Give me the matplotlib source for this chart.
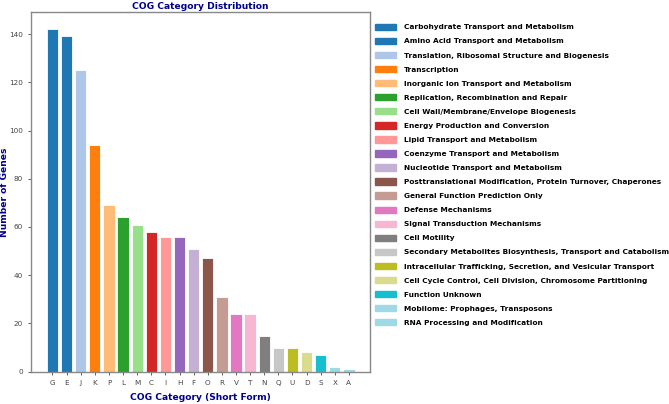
import matplotlib
matplotlib.use("Agg")
import matplotlib.pyplot as plt
import matplotlib.patches as mpatches
import numpy as np

# COG categories sorted by count
codes = ["G", "E", "J", "K", "P", "L", "M", "C", "I", "H", "F",
         "O", "R", "V", "T", "N", "Q", "U", "D", "S", "X", "A"]
counts = [142, 139, 125, 94, 69, 64, 61, 58, 56, 56, 51,
          47, 31, 24, 24, 15, 10, 10, 8, 7, 2, 1]
names = [
    "Carbohydrate Transport and Metabolism",
    "Amino Acid Transport and Metabolism",
    "Translation, Ribosomal Structure and Biogenesis",
    "Transcription",
    "Inorganic Ion Transport and Metabolism",
    "Replication, Recombination and Repair",
    "Cell Wall/Membrane/Envelope Biogenesis",
    "Energy Production and Conversion",
    "Lipid Transport and Metabolism",
    "Coenzyme Transport and Metabolism",
    "Nucleotide Transport and Metabolism",
    "Posttranslational Modification, Protein Turnover, Chaperones",
    "General Function Prediction Only",
    "Defense Mechanisms",
    "Signal Transduction Mechanisms",
    "Cell Motility",
    "Secondary Metabolites Biosynthesis, Transport and Catabolism",
    "Intracellular Trafficking, Secretion, and Vesicular Transport",
    "Cell Cycle Control, Cell Division, Chromosome Partitioning",
    "Function Unknown",
    "Mobilome: Prophages, Transposons",
    "RNA Processing and Modification",
]

colors = plt.cm.tab20(np.linspace(0, 1, len(codes)))

fig = plt.figure(figsize=(6.69, 4.04), dpi=100)
ax = fig.add_axes([0.047, 0.08, 0.506, 0.89])

ax.bar(codes, counts, color=colors, edgecolor="white", linewidth=0.6)

ax.set_title("COG Category Distribution", fontsize=6.6, fontweight="bold",
             color="darkblue", pad=2)
ax.set_xlabel("COG Category (Short Form)", fontsize=6.6, fontweight="bold",
              color="darkblue", labelpad=5)
ax.set_ylabel("Number of Genes", fontsize=6.6, fontweight="bold",
              color="darkblue", labelpad=0.5)

ax.tick_params(labelsize=5.2, colors="#444444", length=2.5, width=0.6)
for s in ax.spines.values():
    s.set_color("#888888")
    s.set_linewidth(1.0)

# legend with full category names
handles = [mpatches.Patch(color=c, label=n) for c, n in zip(colors, names)]
ax.legend(handles=handles, loc="upper left", bbox_to_anchor=(1.005, 0.976),
          frameon=False, prop={"size": 5.3, "weight": "bold"},
          handlelength=2.85, handleheight=0.95, labelspacing=1.0,
          handletextpad=1.1, borderaxespad=0)

fig.savefig("out.png", dpi=100)
